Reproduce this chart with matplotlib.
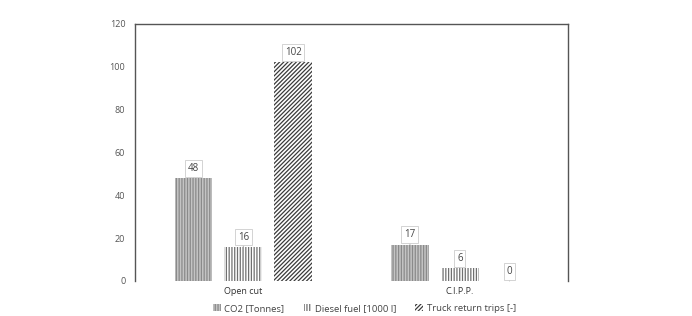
import matplotlib.pyplot as plt
import numpy as np

plt.rcParams['font.family'] = ['Open Sans', 'DejaVu Sans']
plt.rcParams['hatch.linewidth'] = 0.9

categories = ['Open cut', 'C.I.P.P.']
series = ['CO2 [Tonnes]', 'Diesel fuel [1000 l]', 'Truck return trips [-]']
co2 = [48, 17]
diesel = [16, 6]
trips = [102, 0]

fig = plt.figure(figsize=(6.92, 3.16), dpi=100)
ax = fig.add_axes([135/692, 1-281/316, 433/692, (281-23.5)/316])

ind = np.arange(len(categories))
width = 0.175
step = 0.23
hatches = ['||||||', '||||||', '////////']
faces = ['#c4c4c4', 'white', 'white']
edges = ['#8a8a8a', '#707070', '#3a3a3a']
values = [co2, diesel, trips]
for i, vals in enumerate(values):
    r = ax.bar(ind + (i - 1) * step, vals, width, color=faces[i], edgecolor=edges[i],
               hatch=hatches[i], linewidth=0, label=series[i])
    for rect, v in zip(r, vals):
        ax.annotate(str(v), (rect.get_x() + rect.get_width() / 2, v),
                    xytext=(0, 3), textcoords='offset points', ha='center', va='bottom',
                    fontsize=7, color='#444444',
                    bbox=dict(boxstyle='square,pad=0.3', fc='white', ec='#cccccc', lw=0.6),
                    arrowprops=dict(arrowstyle='-', color='#999999', lw=0.6))

ax.set_xlim(-0.5, 1.5)
ax.set_ylim(0, 120)
ax.set_yticks(np.arange(0, 121, 20))
ax.set_xticks(ind)
ax.set_xticklabels(categories, color='#333333')
ax.tick_params(axis='y', length=0, labelsize=6.5, colors='#555555', pad=7)
ax.tick_params(axis='x', length=0, labelsize=6.5, pad=4)
for s in ['left', 'top', 'right']:
    ax.spines[s].set_color('#555555')
    ax.spines[s].set_linewidth(1.0)
ax.spines['bottom'].set_visible(False)

ax.legend(loc='upper center', bbox_to_anchor=(0.53, -0.055), ncol=3, frameon=False,
          fontsize=6.8, handlelength=0.8, handleheight=0.8, columnspacing=2.0,
          handletextpad=0.4, labelcolor='#444444')

fig.savefig('out.png', dpi=100)
